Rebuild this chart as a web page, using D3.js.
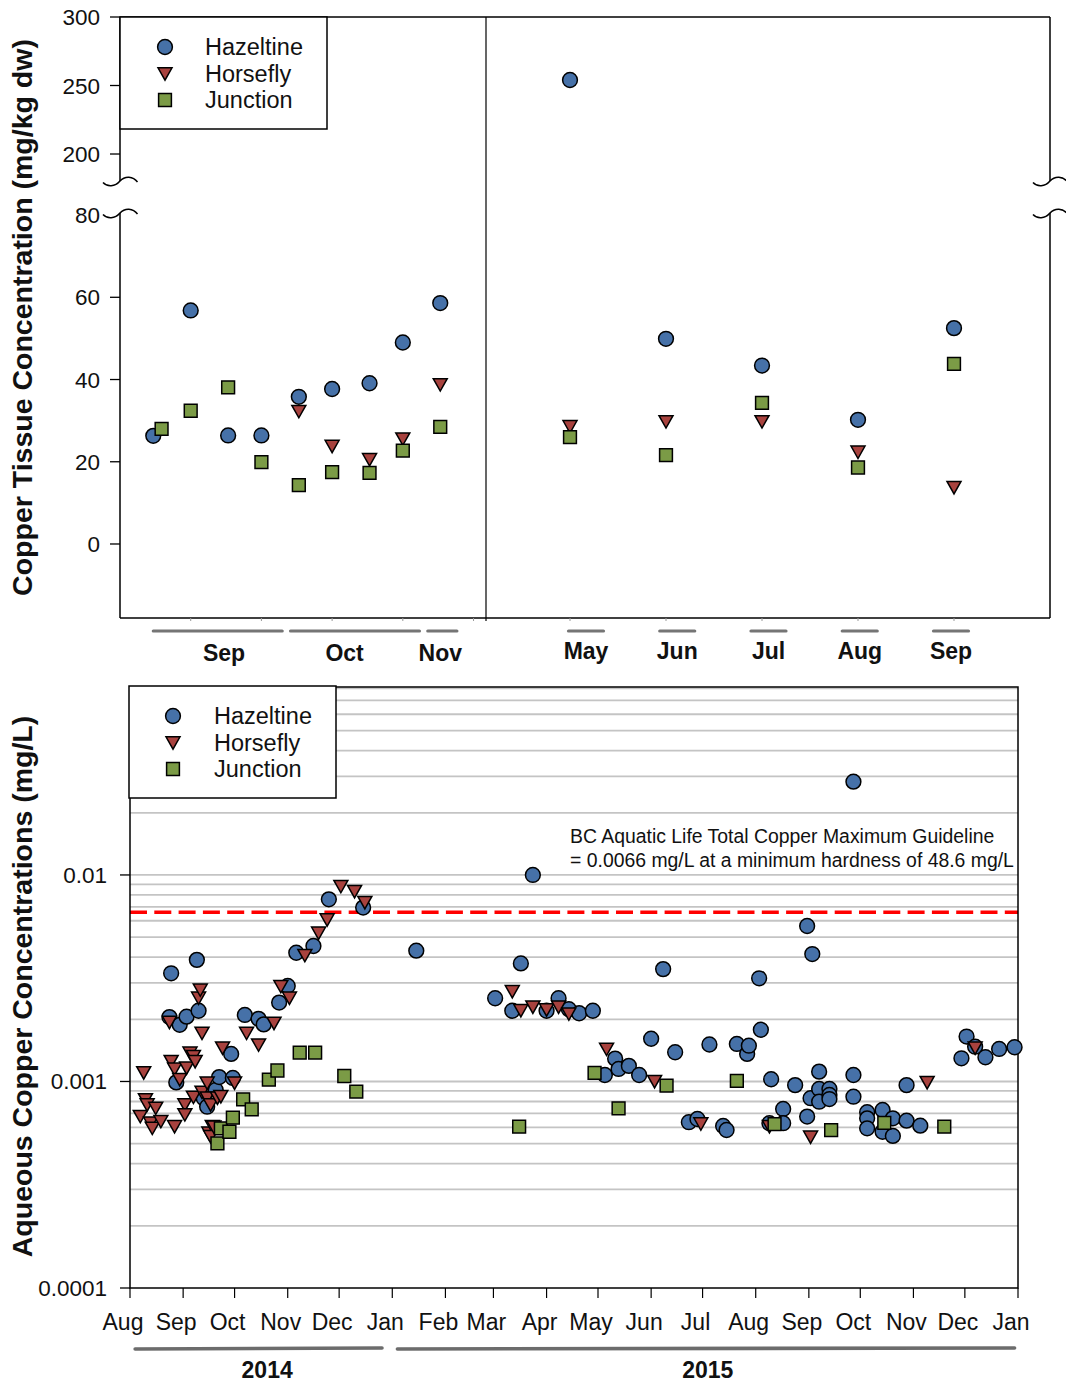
<!DOCTYPE html>
<html>
<head>
<meta charset="utf-8">
<script src="https://cdn.jsdelivr.net/npm/d3@7"></script>
<style>
  body { margin: 0; background: #fff; }
  text { font-family: Arial, "Liberation Sans", sans-serif; fill: #111; }
</style>
</head>
<body>
<div id="chart"></div>
<script>
// ---------- data ----------
const seriesNames = ["Hazeltine", "Horsefly", "Junction"];
const seriesShapes = ["circle", "triangle", "square"];
const seriesColors = ["#4671a8", "#a8423e", "#7b9b46"];

// tissue, 2014 (left panel, by sample date)
const tissueHazDates2014 = ["2014-09-01", "2014-09-10", "2014-09-19", "2014-09-27", "2014-10-06", "2014-10-14", "2014-10-23", "2014-10-31", "2014-11-09"];
const tissueHaz2014 = [26.3, 56.8, 26.4, 26.4, 35.8, 37.7, 39.1, 49.0, 58.6];
const tissueHorDates2014 = ["2014-10-06", "2014-10-14", "2014-10-23", "2014-10-31", "2014-11-09"];
const tissueHor2014 = [32.2, 23.7, 20.5, 25.5, 38.7];
const tissueJunDates2014 = ["2014-09-03", "2014-09-10", "2014-09-19", "2014-09-27", "2014-10-06", "2014-10-14", "2014-10-23", "2014-10-31", "2014-11-09"];
const tissueJun2014 = [28.0, 32.4, 38.1, 19.9, 14.3, 17.5, 17.3, 22.7, 28.5];
const tissueTicks2014 = ["2014-09-10", "2014-09-27", "2014-10-14", "2014-10-31", "2014-11-17"];
const tissueMonths2014 = [
  { label: "Sep", from: "2014-09-01", to: "2014-10-02", at: "2014-09-18" },
  { label: "Oct", from: "2014-10-04", to: "2014-11-04", at: "2014-10-17" },
  { label: "Nov", from: "2014-11-06", to: "2014-11-13", at: "2014-11-09" }
];

// tissue, 2015 (right panel, one sample per month)
const tissueMonths2015 = ["May", "Jun", "Jul", "Aug", "Sep"];
const tissueHaz2015 = [254, 49.9, 43.4, 30.2, 52.5];
const tissueHor2015 = [28.5, 29.7, 29.7, 22.3, 13.7];
const tissueJun2015 = [26.0, 21.6, 34.3, 18.6, 43.8];

const tissueTicksUpper = [200, 250, 300];
const tissueTicksLower = [0, 20, 40, 60];

// aqueous copper (mg/L)
const aqHazeltine = [
  ["2014-08-24", 0.00205], ["2014-08-25", 0.00334], ["2014-08-28", 0.00099], ["2014-08-30", 0.00188],
  ["2014-09-03", 0.00206], ["2014-09-09", 0.00388], ["2014-09-10", 0.0022], ["2014-09-13", 0.00083],
  ["2014-09-15", 0.000755], ["2014-09-20", 0.00091], ["2014-09-22", 0.00105], ["2014-09-29", 0.00136],
  ["2014-09-30", 0.00104], ["2014-10-07", 0.0021], ["2014-10-15", 0.00201], ["2014-10-18", 0.00189],
  ["2014-10-27", 0.00241], ["2014-11-01", 0.0029], ["2014-11-06", 0.0042], ["2014-11-16", 0.00453],
  ["2014-11-25", 0.00762], ["2014-12-15", 0.00695], ["2015-01-15", 0.0043], ["2015-03-02", 0.00253],
  ["2015-03-12", 0.0022], ["2015-03-17", 0.00373], ["2015-03-24", 0.01], ["2015-04-01", 0.0022],
  ["2015-04-08", 0.00253], ["2015-04-14", 0.00224], ["2015-04-20", 0.00214], ["2015-04-28", 0.0022],
  ["2015-05-05", 0.001075], ["2015-05-11", 0.00129], ["2015-05-13", 0.00115], ["2015-05-19", 0.00119],
  ["2015-05-25", 0.001075], ["2015-06-01", 0.00161], ["2015-06-08", 0.0035], ["2015-06-15", 0.001385],
  ["2015-06-23", 0.000635], ["2015-06-28", 0.000658], ["2015-07-05", 0.00151], ["2015-07-13", 0.000609],
  ["2015-07-15", 0.000582], ["2015-07-21", 0.00152], ["2015-07-27", 0.00136], ["2015-07-28", 0.00149],
  ["2015-08-03", 0.00316], ["2015-08-04", 0.00178], ["2015-08-09", 0.000628], ["2015-08-10", 0.001025],
  ["2015-08-17", 0.000736], ["2015-08-17", 0.000628], ["2015-08-24", 0.00096], ["2015-08-31", 0.00566],
  ["2015-08-31", 0.000676], ["2015-09-02", 0.00083], ["2015-09-03", 0.00414], ["2015-09-07", 0.001116],
  ["2015-09-07", 0.00092], ["2015-09-07", 0.000798], ["2015-09-13", 0.00092], ["2015-09-13", 0.00086],
  ["2015-09-13", 0.000822], ["2015-09-27", 0.0283], ["2015-09-27", 0.001075], ["2015-09-27", 0.000844],
  ["2015-10-05", 0.00071], ["2015-10-05", 0.000663], ["2015-10-05", 0.000593], ["2015-10-14", 0.000728],
  ["2015-10-14", 0.000571], ["2015-10-20", 0.000663], ["2015-10-20", 0.000545], ["2015-10-28", 0.00096],
  ["2015-10-28", 0.000646], ["2015-11-05", 0.000611], ["2015-11-29", 0.001295], ["2015-12-02", 0.00165],
  ["2015-12-07", 0.001474], ["2015-12-13", 0.00131], ["2015-12-21", 0.001437], ["2015-12-30", 0.001465]
];
const aqHorsefly = [
  ["2014-08-07", 0.000676], ["2014-08-09", 0.0011], ["2014-08-10", 0.000814], ["2014-08-11", 0.000769],
  ["2014-08-13", 0.000628], ["2014-08-14", 0.000593], ["2014-08-16", 0.000741], ["2014-08-19", 0.000639],
  ["2014-08-24", 0.00193], ["2014-08-25", 0.001247], ["2014-08-27", 0.000604], ["2014-08-27", 0.001146],
  ["2014-08-30", 0.00102], ["2014-09-02", 0.000769], ["2014-09-02", 0.000689], ["2014-09-03", 0.00116],
  ["2014-09-05", 0.00137], ["2014-09-07", 0.00132], ["2014-09-07", 0.000838], ["2014-09-08", 0.001247],
  ["2014-09-10", 0.00253], ["2014-09-11", 0.00277], ["2014-09-12", 0.000886], ["2014-09-12", 0.00171],
  ["2014-09-15", 0.00098], ["2014-09-15", 0.00083], ["2014-09-16", 0.000561], ["2014-09-17", 0.000769],
  ["2014-09-18", 0.000604], ["2014-09-17", 0.00054], ["2014-09-19", 0.0006], ["2014-09-21", 0.00083],
  ["2014-09-23", 0.000844], ["2014-09-24", 0.00145], ["2014-10-01", 0.00098], ["2014-10-08", 0.00171],
  ["2014-10-15", 0.0015], ["2014-10-24", 0.00191], ["2014-10-28", 0.00288], ["2014-11-02", 0.00253],
  ["2014-11-11", 0.00407], ["2014-11-19", 0.00522], ["2014-11-24", 0.00605], ["2014-12-02", 0.00878],
  ["2014-12-10", 0.0083], ["2014-12-16", 0.00734], ["2015-03-12", 0.00272], ["2015-03-17", 0.0022],
  ["2015-03-24", 0.00229], ["2015-04-01", 0.00222], ["2015-04-08", 0.00229], ["2015-04-14", 0.00212],
  ["2015-05-06", 0.00143], ["2015-06-03", 0.000998], ["2015-06-30", 0.000622], ["2015-08-09", 0.000604],
  ["2015-09-02", 0.000537], ["2015-11-09", 0.000987], ["2015-12-07", 0.00145]
];
const aqJunction = [
  ["2014-09-21", 0.000502], ["2014-09-23", 0.000593], ["2014-09-28", 0.000571], ["2014-09-30", 0.000668],
  ["2014-10-06", 0.00082], ["2014-10-11", 0.000733], ["2014-10-21", 0.00102], ["2014-10-26", 0.00113],
  ["2014-11-08", 0.00138], ["2014-11-17", 0.00138], ["2014-12-04", 0.001063], ["2014-12-11", 0.000893],
  ["2015-03-16", 0.000604], ["2015-04-29", 0.0011], ["2015-05-13", 0.000741], ["2015-06-10", 0.000955],
  ["2015-07-21", 0.001006], ["2015-08-12", 0.000622], ["2015-09-14", 0.000582], ["2015-10-15", 0.000631],
  ["2015-11-19", 0.000604]
];
const guidelineValue = 0.0066;
const guidelineText = ["BC Aquatic Life Total Copper Maximum Guideline", "= 0.0066 mg/L at a minimum hardness of 48.6 mg/L"];
const aqTickValues = [0.0001, 0.001, 0.01];
const aqYears = [
  { label: "2014", from: "2014-08-04", to: "2014-12-26", at: "2014-10-20" },
  { label: "2015", from: "2015-01-04", to: "2015-12-30", at: "2015-07-04" }
];

// ---------- setup ----------
const W = 1066, H = 1385;
const parse = d3.timeParse("%Y-%m-%d");
const svg = d3.select("#chart").append("svg").attr("width", W).attr("height", H);

function shapePath(type) {
  const r = 7.4, a = 12.8, tw = 14, th = 12.4;
  if (type === "circle") return `M${r},0A${r},${r} 0 1,1 ${-r},0A${r},${r} 0 1,1 ${r},0Z`;
  if (type === "triangle") return `M${-tw / 2},${-th / 2}L${tw / 2},${-th / 2}L0,${th / 2}Z`;
  return `M${-a / 2},${-a / 2}h${a}v${a}h${-a}Z`;
}
function drawMarks(g, pts, i) {
  g.append("g").selectAll("path").data(pts).join("path")
    .attr("d", shapePath(seriesShapes[i]))
    .attr("transform", d => `translate(${d[0]},${d[1]})`)
    .attr("fill", seriesColors[i])
    .attr("stroke", "#000").attr("stroke-width", 1.5);
}
function drawLegend(g, x0, y0, w, h, mx, tx, rows) {
  g.append("rect").attr("x", x0).attr("y", y0).attr("width", w).attr("height", h)
    .attr("fill", "#fff").attr("stroke", "#000").attr("stroke-width", 1.5);
  seriesNames.forEach((name, i) => {
    g.append("path").attr("d", shapePath(seriesShapes[i]))
      .attr("transform", `translate(${mx},${rows[i]})`)
      .attr("fill", seriesColors[i]).attr("stroke", "#000").attr("stroke-width", 1.5);
    g.append("text").attr("x", tx).attr("y", rows[i] + 8).attr("font-size", 23.5).text(name);
  });
}
function wave(cx, cy) {
  return `M${cx - 17},${cy + 1.5}C${cx - 13},${cy + 6} ${cx - 5},${cy + 6} ${cx},${cy}C${cx + 5},${cy - 5.5} ${cx + 13},${cy - 5} ${cx + 17.5},${cy + 1}`;
}

// ---------- top chart: tissue ----------
const topG = svg.append("g");
const tL = 120, tR = 1050, tMid = 486, tT = 17, tB = 618, brkHi = 181, brkLo = 213;
const yUpper = d3.scaleLinear().domain([180.3, 300]).range([brkHi, tT]);
const yLower = d3.scaleLinear().domain([-18, 80.5]).range([tB, brkLo]);
const yTissue = v => (v >= 180 ? yUpper(v) : yLower(v));
const xLeft = d3.scaleTime().domain([parse("2014-08-24"), parse("2014-11-20")]).range([tL, tMid]);
const xRight = d3.scalePoint().domain(tissueMonths2015).range([570, 954]);
const xRightLabel = d3.scalePoint().domain(tissueMonths2015).range([586, 951]);

// frame
const frame = topG.append("g").attr("stroke", "#000").attr("stroke-width", 1.5).attr("fill", "none");
frame.append("line").attr("x1", tL).attr("x2", tR).attr("y1", tT).attr("y2", tT);
frame.append("line").attr("x1", tL).attr("x2", tR).attr("y1", tB).attr("y2", tB);
[tL, tR].forEach(x => {
  frame.append("line").attr("x1", x).attr("x2", x).attr("y1", tT).attr("y2", brkHi);
  frame.append("line").attr("x1", x).attr("x2", x).attr("y1", brkLo).attr("y2", tB);
  frame.append("path").attr("d", wave(x, brkHi));
  frame.append("path").attr("d", wave(x, brkLo));
});
frame.append("line").attr("x1", tMid).attr("x2", tMid).attr("y1", tT).attr("y2", tB + 3).attr("stroke-width", 1.2);

// y ticks
const yTickVals = tissueTicksUpper.concat(tissueTicksLower);
topG.append("g").selectAll("line").data(yTickVals).join("line")
  .attr("x1", tL - 10).attr("x2", tL).attr("y1", yTissue).attr("y2", yTissue)
  .attr("stroke", "#000").attr("stroke-width", 1.3);
topG.append("g").selectAll("text").data(yTickVals.concat([80])).join("text")
  .attr("x", tL - 20).attr("y", d => yTissue(d) + 8).attr("text-anchor", "end")
  .attr("font-size", 22.5).text(d => d);
topG.append("text").attr("transform", `translate(32,${(tT + tB) / 2}) rotate(-90)`)
  .attr("text-anchor", "middle").attr("font-size", 28.5).attr("font-weight", "bold")
  .text("Copper Tissue Concentration (mg/kg dw)");

// x ticks (small)
const xTicksTop = tissueTicks2014.map(d => xLeft(parse(d))).concat(tissueMonths2015.map(m => xRight(m)));
topG.append("g").selectAll("line").data(xTicksTop).join("line")
  .attr("x1", d => d).attr("x2", d => d).attr("y1", tB).attr("y2", tB + 3)
  .attr("stroke", "#999").attr("stroke-width", 1);

// month underlines and labels
const monthsG = topG.append("g");
tissueMonths2014.forEach(m => {
  monthsG.append("line").attr("x1", xLeft(parse(m.from))).attr("x2", xLeft(parse(m.to)))
    .attr("y1", 631).attr("y2", 631).attr("stroke", "#757575").attr("stroke-width", 3.2).attr("stroke-linecap", "round");
  monthsG.append("text").attr("x", xLeft(parse(m.at))).attr("y", 661).attr("text-anchor", "middle")
    .attr("font-size", 23).attr("font-weight", "bold").text(m.label);
});
tissueMonths2015.forEach(m => {
  const c = xRightLabel(m);
  monthsG.append("line").attr("x1", c - 17.5).attr("x2", c + 17.5)
    .attr("y1", 631).attr("y2", 631).attr("stroke", "#757575").attr("stroke-width", 3.2).attr("stroke-linecap", "round");
  monthsG.append("text").attr("x", c).attr("y", 659).attr("text-anchor", "middle")
    .attr("font-size", 23).attr("font-weight", "bold").text(m);
});

// points
const topMarks = topG.append("g");
[[tissueHazDates2014, tissueHaz2014, tissueHaz2015],
 [tissueHorDates2014, tissueHor2014, tissueHor2015],
 [tissueJunDates2014, tissueJun2014, tissueJun2015]].forEach(([dates, v14, v15], i) => {
  const pts = dates.map((d, k) => [xLeft(parse(d)), yTissue(v14[k])])
    .concat(tissueMonths2015.map((m, k) => [xRight(m), yTissue(v15[k])]));
  drawMarks(topMarks, pts, i);
});
drawLegend(topG, tL, tT, 207, 112, 165, 205, [47, 74, 100]);

// ---------- bottom chart: aqueous ----------
const botG = svg.append("g");
const bL = 130, bR = 1018, bT = 687, bB = 1288;
const xAq = d3.scaleTime().domain([parse("2014-08-01"), parse("2016-01-01")]).range([bL, bR]);
const yAq = d3.scaleLog().domain([0.0001, 0.0813]).range([bB, bT]);

// grid at every minor log value
const gridVals = yAq.ticks().filter(v => v > 0.0001 && v <= 0.0813);
botG.append("g").selectAll("line").data(gridVals).join("line")
  .attr("x1", bL).attr("x2", bR).attr("y1", d => yAq(d)).attr("y2", d => yAq(d))
  .attr("stroke", "#c4c4c4").attr("stroke-width", 1.8);

// guideline
botG.append("line").attr("x1", bL).attr("x2", bR)
  .attr("y1", yAq(guidelineValue)).attr("y2", yAq(guidelineValue))
  .attr("stroke", "#ff0000").attr("stroke-width", 3.6).attr("stroke-dasharray", "17,7.3");
botG.append("g").selectAll("text").data(guidelineText).join("text")
  .attr("x", 570).attr("y", (d, i) => 843 + i * 24).attr("font-size", 19.4).text(d => d);

// frame
botG.append("rect").attr("x", bL).attr("y", bT).attr("width", bR - bL).attr("height", bB - bT)
  .attr("fill", "none").attr("stroke", "#000").attr("stroke-width", 1.5);

// y axis
botG.append("g").selectAll("line").data(aqTickValues).join("line")
  .attr("x1", bL - 10).attr("x2", bL).attr("y1", d => yAq(d)).attr("y2", d => yAq(d))
  .attr("stroke", "#000").attr("stroke-width", 1.3);
botG.append("g").selectAll("text").data(aqTickValues).join("text")
  .attr("x", bL - 23).attr("y", d => yAq(d) + 8).attr("text-anchor", "end")
  .attr("font-size", 22.5).text(d => String(d));
botG.append("text").attr("transform", `translate(32,${(bT + bB) / 2 - 1}) rotate(-90)`)
  .attr("text-anchor", "middle").attr("font-size", 28.5).attr("font-weight", "bold")
  .text("Aqueous Copper Concentrations (mg/L)");

// x axis: months
const monthTicks = d3.timeMonth.range(parse("2014-08-01"), parse("2016-01-02"));
botG.append("g").selectAll("line").data(monthTicks).join("line")
  .attr("x1", d => xAq(d)).attr("x2", d => xAq(d)).attr("y1", bB).attr("y2", bB + 10)
  .attr("stroke", "#000").attr("stroke-width", 1.2);
botG.append("g").selectAll("text").data(monthTicks).join("text")
  .attr("x", d => xAq(d) - 7).attr("y", 1330).attr("text-anchor", "middle")
  .attr("font-size", 23).text(d3.timeFormat("%b"));

// years
aqYears.forEach(yr => {
  botG.append("line").attr("x1", xAq(parse(yr.from))).attr("x2", xAq(parse(yr.to)))
    .attr("y1", 1349).attr("y2", 1348).attr("stroke", "#6c6c6c").attr("stroke-width", 3.6).attr("stroke-linecap", "round");
  botG.append("text").attr("x", xAq(parse(yr.at))).attr("y", 1378).attr("text-anchor", "middle")
    .attr("font-size", 23).attr("font-weight", "bold").text(yr.label);
});

// points
const botMarks = botG.append("g");
[aqHazeltine, aqHorsefly, aqJunction].forEach((series, i) => {
  drawMarks(botMarks, series.map(d => [xAq(parse(d[0])), yAq(d[1])]), i);
});
drawLegend(botG, 129, 686, 207, 112, 173, 214, [716, 743, 769]);
</script>
</body>
</html>
